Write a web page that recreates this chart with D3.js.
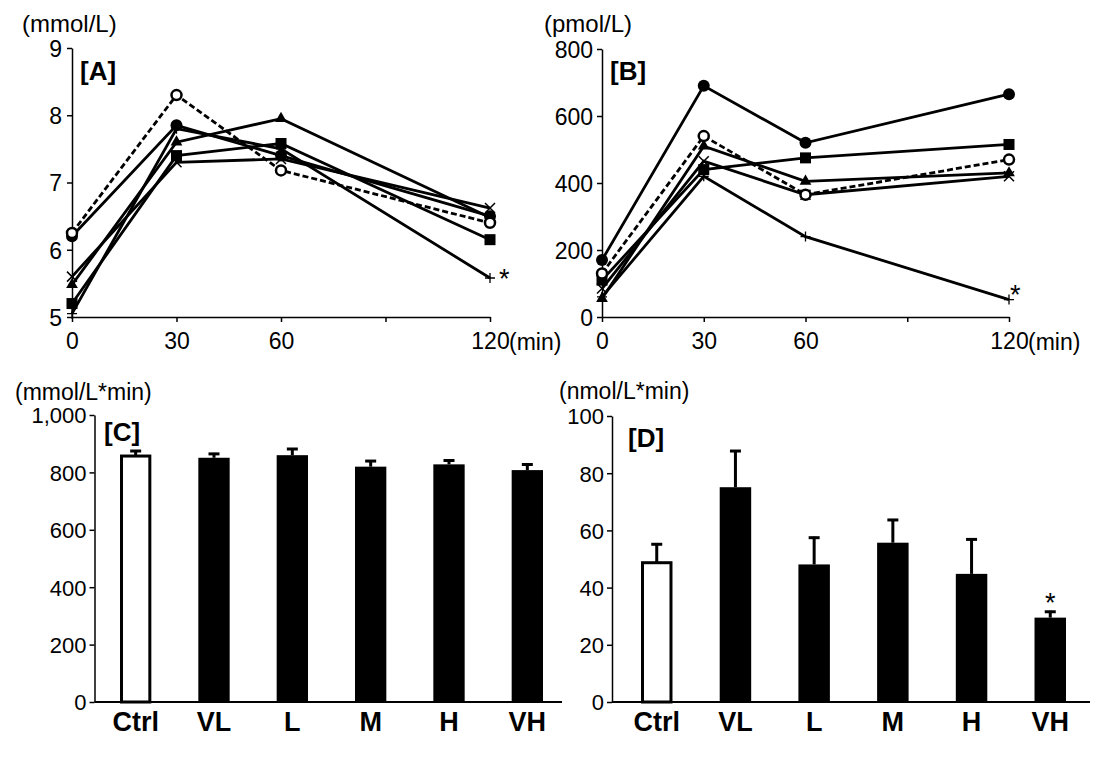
<!DOCTYPE html>
<html><head><meta charset="utf-8">
<script src="https://cdn.jsdelivr.net/npm/d3@7"></script>
<style>
html,body{margin:0;padding:0;background:#fff;}
text{font-family:"Liberation Sans",Arial,sans-serif;fill:#000;}
</style></head>
<body>
<svg id="chart" width="1107" height="759"></svg>
<script>
// ---- data ----
const timesMin = [0, 30, 60, 120];
const timeTicks = [0, 30, 60, 90, 120];
const timeTickLabels = ["0", "30", "60", "", "120"];

// Panel A: blood glucose (mmol/L)
const glucoseOpenCircle = [6.25, 8.3, 7.18, 6.4];
const glucoseFilledCircle = [6.2, 7.85, 7.4, 6.5];
const glucoseTriangle = [5.48, 7.6, 7.95, 6.48];
const glucoseSquare = [5.2, 7.4, 7.58, 6.15];
const glucoseCross = [5.6, 7.3, 7.35, 6.62];
const glucosePlus = [5.05, 7.8, 7.5, 5.58];
const glucoseTicks = [5, 6, 7, 8, 9];

// Panel B: insulin (pmol/L)
const insulinOpenCircle = [130, 540, 365, 470];
const insulinFilledCircle = [170, 690, 520, 665];
const insulinTriangle = [55, 510, 405, 430];
const insulinSquare = [110, 440, 475, 515];
const insulinCross = [85, 465, 365, 420];
const insulinPlus = [60, 420, 240, 52];
const insulinTicks = [0, 200, 400, 600, 800];

// Panels C and D: AUC bars
const groups = ["Ctrl", "VL", "L", "M", "H", "VH"];
const glucoseAUC = [857, 851, 860, 820, 828, 808];
const glucoseAUCse = [21, 17, 25, 23, 17, 23];
const glucoseAUCTicks = [0, 200, 400, 600, 800, 1000];
const insulinAUC = [48.7, 75.1, 48.1, 55.7, 44.8, 29.5];
const insulinAUCse = [6.8, 13.0, 9.7, 8.3, 12.4, 2.4];
const insulinAUCTicks = [0, 20, 40, 60, 80, 100];

const svg = d3.select("#chart");

function markerDraw(g, type, x, y) {
  if (type === "filledCircle") {
    g.append("circle").attr("cx", x).attr("cy", y).attr("r", 6).attr("fill", "#000");
  } else if (type === "openCircle") {
    g.append("circle").attr("cx", x).attr("cy", y).attr("r", 5).attr("fill", "#fff").attr("stroke", "#000").attr("stroke-width", 2.5);
  } else if (type === "square") {
    g.append("rect").attr("x", x - 5.5).attr("y", y - 5.5).attr("width", 11).attr("height", 11).attr("fill", "#000");
  } else if (type === "triangle") {
    g.append("path").attr("transform", `translate(${x},${y})`).attr("d", d3.symbol(d3.symbolTriangle, 60)()).attr("fill", "#000");
  } else if (type === "cross") {
    g.append("path").attr("d", `M${x-5},${y-5}L${x+5},${y+5}M${x-5},${y+5}L${x+5},${y-5}`).attr("stroke", "#000").attr("stroke-width", 1.5);
  } else if (type === "plus") {
    g.append("path").attr("d", `M${x-5},${y}L${x+5},${y}M${x},${y-5}L${x},${y+5}`).attr("stroke", "#000").attr("stroke-width", 1.3);
  }
}

function linePanel(opts) {
  const g = svg.append("g");
  const x = d3.scaleLinear().domain([0, 120]).range([opts.x0, opts.x1]);
  const y = d3.scaleLinear().domain(opts.yDomain).range([opts.yBottom, opts.yTop]);

  const yAxis = d3.axisLeft(y).tickValues(opts.yTicks).tickFormat(d3.format("d")).tickSize(5).tickSizeOuter(0).tickPadding(opts.yPad);
  const ya = g.append("g").attr("transform", `translate(${opts.x0},0)`).call(yAxis);
  ya.selectAll("text").style("font-size", "23px").attr("dy", "0.36em");
  ya.selectAll("path,line").attr("stroke", "#000").attr("stroke-width", 1.5);

  const xAxis = d3.axisBottom(x).tickValues(timeTicks).tickFormat((d, i) => timeTickLabels[i]).tickSize(5).tickSizeOuter(0).tickPadding(11);
  const xa = g.append("g").attr("transform", `translate(0,${opts.yBottom})`).call(xAxis);
  xa.selectAll("text").style("font-size", "23px");
  xa.selectAll("path,line").attr("stroke", "#000").attr("stroke-width", 1.5);
  g.append("text").attr("x", x(120) + 19).attr("y", opts.yBottom + 32.5).style("font-size", "23px").text("(min)");

  g.append("text").attr("x", opts.unitX).attr("y", 32).style("font-size", "24px").text(opts.unit);
  g.append("text").attr("x", opts.labelX).attr("y", 80).style("font-size", "26px").style("font-weight", "bold").text(opts.label);

  const line = d3.line().x((d, i) => x(timesMin[i])).y(d => y(d));
  opts.series.forEach(s => {
    g.append("path").datum(s.values).attr("d", line).attr("fill", "none")
      .attr("stroke", "#000").attr("stroke-width", 2.8)
      .attr("stroke-dasharray", s.dashed ? "6,3" : null);
  });
  opts.series.forEach(s => {
    s.values.forEach((v, i) => markerDraw(g, s.marker, x(timesMin[i]), y(v)));
  });
  const plusSeries = opts.series.find(s => s.marker === "plus");
  g.append("text").attr("x", x(120) + opts.starDx).attr("y", y(plusSeries.values[3]) + opts.starDy).style("font-size", "27px").text("*");
}

linePanel({
  x0: 72, x1: 490, yTop: 48, yBottom: 317, yDomain: [5, 9], yTicks: glucoseTicks, yPad: 5,
  unit: "(mmol/L)", unitX: 22, label: "[A]", labelX: 80, starDx: 9, starDy: 10,
  series: [
    {values: glucoseCross, marker: "cross"},
    {values: glucosePlus, marker: "plus"},
    {values: glucoseSquare, marker: "square"},
    {values: glucoseTriangle, marker: "triangle"},
    {values: glucoseFilledCircle, marker: "filledCircle"},
    {values: glucoseOpenCircle, marker: "openCircle", dashed: true}
  ]
});

linePanel({
  x0: 602, x1: 1009, yTop: 49, yBottom: 317, yDomain: [0, 800], yTicks: insulinTicks, yPad: 4,
  unit: "(pmol/L)", unitX: 544, label: "[B]", labelX: 610, starDx: 1, starDy: 4,
  series: [
    {values: insulinCross, marker: "cross"},
    {values: insulinPlus, marker: "plus"},
    {values: insulinSquare, marker: "square"},
    {values: insulinTriangle, marker: "triangle"},
    {values: insulinFilledCircle, marker: "filledCircle"},
    {values: insulinOpenCircle, marker: "openCircle", dashed: true}
  ]
});

function barPanel(opts) {
  const g = svg.append("g");
  const x = d3.scaleBand().domain(groups).range([opts.bx0, opts.bx1]).paddingInner(0.6).paddingOuter(0);
  const y = d3.scaleLinear().domain(opts.yDomain).range([opts.yBottom, opts.yTop]);

  const yAxis = d3.axisLeft(y).tickValues(opts.yTicks).tickFormat(opts.fmt).tickSize(5).tickSizeOuter(0).tickPadding(3);
  const ya = g.append("g").attr("transform", `translate(${opts.x0},0)`).call(yAxis);
  ya.selectAll("text").style("font-size", opts.tickFont).attr("dy", "0.36em");
  ya.selectAll("path,line").attr("stroke", "#000").attr("stroke-width", 1.5);

  g.append("line").attr("x1", opts.x0).attr("x2", opts.xEnd).attr("y1", opts.yBottom).attr("y2", opts.yBottom)
    .attr("stroke", "#000").attr("stroke-width", 2);

  g.append("text").attr("x", opts.unitX).attr("y", opts.unitY).style("font-size", "23px").text(opts.unit);
  g.append("text").attr("x", opts.labelX).attr("y", opts.labelY).style("font-size", "26px").style("font-weight", "bold").text(opts.label);

  groups.forEach((c, i) => {
    const bx = x(c), bw = x.bandwidth();
    const top = y(opts.values[i]);
    const errTop = y(opts.values[i] + opts.se[i]);
    const cx = bx + bw / 2;
    g.append("line").attr("x1", cx).attr("x2", cx).attr("y1", top).attr("y2", errTop).attr("stroke", "#000").attr("stroke-width", 3);
    g.append("line").attr("x1", cx - 5.5).attr("x2", cx + 5.5).attr("y1", errTop + 1).attr("y2", errTop + 1).attr("stroke", "#000").attr("stroke-width", 3);
    if (i === 0) {
      g.append("rect").attr("x", bx + 1.5).attr("y", top).attr("width", bw - 3).attr("height", opts.yBottom - top)
        .attr("fill", "#fff").attr("stroke", "#000").attr("stroke-width", 3);
    } else {
      g.append("rect").attr("x", bx).attr("y", top).attr("width", bw).attr("height", opts.yBottom - top).attr("fill", "#000");
    }
    g.append("text").attr("x", cx).attr("y", 731).attr("text-anchor", "middle")
      .style("font-size", "27px").style("font-weight", "bold").text(c);
    if (opts.star && opts.star[i]) {
      g.append("text").attr("x", cx).attr("y", errTop + 1).attr("text-anchor", "middle").style("font-size", "27px").text("*");
    }
  });
}

barPanel({
  x0: 94.5, xEnd: 562, bx0: 120, bx1: 543, yTop: 415, yBottom: 702, yDomain: [0, 1000], tickFont: "22px",
  yTicks: glucoseAUCTicks, fmt: d3.format(","), unit: "(mmol/L*min)", unitX: 15, unitY: 400, label: "[C]", labelX: 104, labelY: 441,
  values: glucoseAUC, se: glucoseAUCse
});

barPanel({
  x0: 612, xEnd: 1090, bx0: 641, bx1: 1066, yTop: 416, yBottom: 702, yDomain: [0, 100], tickFont: "22px",
  yTicks: insulinAUCTicks, fmt: d3.format("d"), unit: "(nmol/L*min)", unitX: 559, unitY: 399, label: "[D]", labelX: 628, labelY: 447,
  values: insulinAUC, se: insulinAUCse, star: [0, 0, 0, 0, 0, 1]
});
</script>
</body></html>
